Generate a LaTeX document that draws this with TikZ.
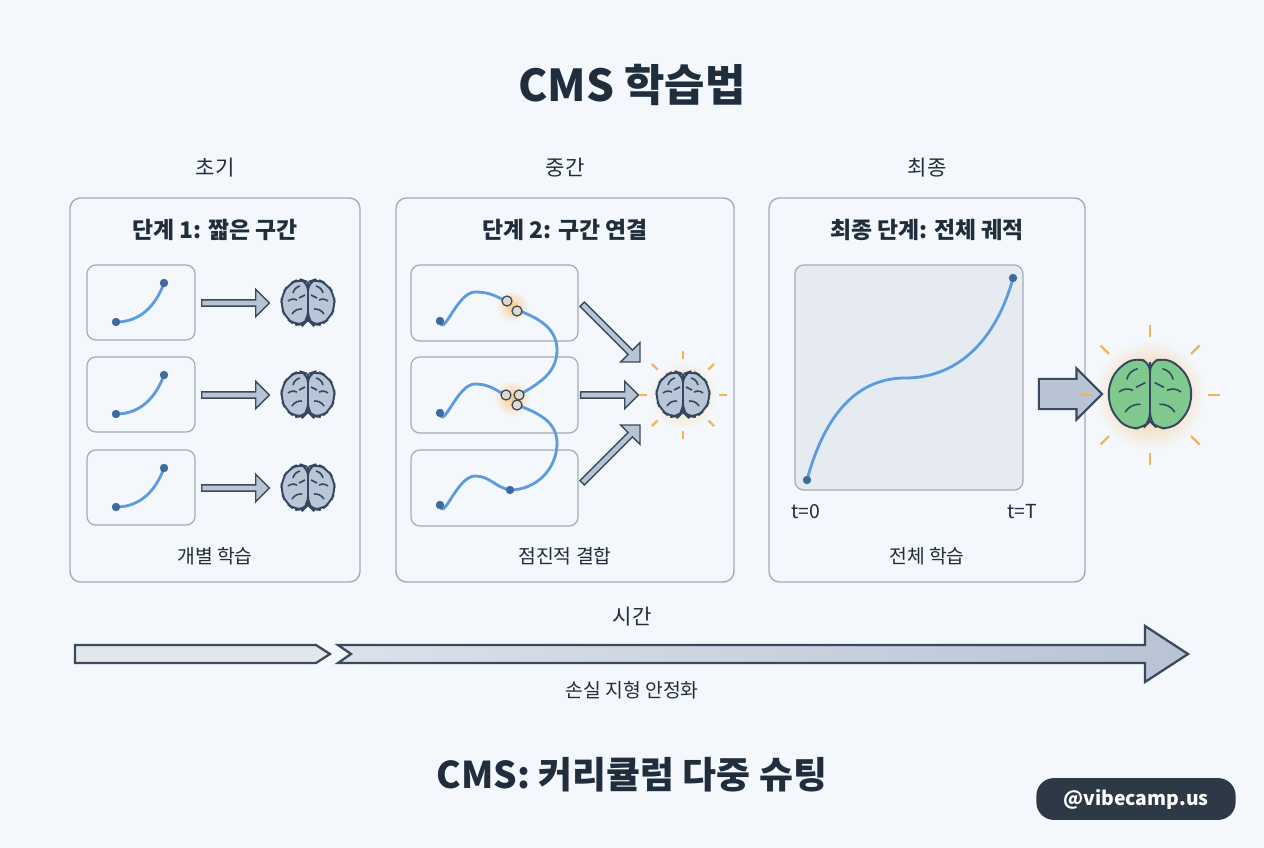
\documentclass[tikz,border=0pt]{standalone}
\usepackage{fontspec}
\setmainfont{Noto Sans CJK KR}
\usetikzlibrary{shapes.arrows,calc}
\definecolor{bgc}{HTML}{F4F7FB}
\definecolor{ink}{HTML}{1F2D3D}
\definecolor{frame}{HTML}{A4ACB6}
\definecolor{curve}{HTML}{5B9BE0}
\definecolor{dotc}{HTML}{3F6AA0}
\definecolor{arrfill}{HTML}{B8C3D3}
\definecolor{arrline}{HTML}{3A4A5E}
\definecolor{brainfill}{HTML}{B9C6D8}
\definecolor{brainline}{HTML}{34475E}
\definecolor{greenb}{HTML}{7FC98F}
\definecolor{glow}{HTML}{F2B35C}
\tikzset{
  panel/.style={draw=frame, line width=0.8pt, rounded corners=6pt, fill=bgc},
  seg/.style={draw=frame, line width=0.7pt, rounded corners=5pt, fill=bgc},
  path line/.style={curve, line width=1.6pt},
  enddot/.style={fill=dotc},
  joint/.style={draw=brainline, fill=brainfill!60!glow!60, line width=0.7pt},
  flow/.style={single arrow, draw=arrline, fill=arrfill, line width=0.8pt,
    inner sep=1.4pt, single arrow head extend=6pt, minimum height=#1*0.567pt},
  ray/.style={glow, line width=1.3pt},
  pics/brain/.style={code={
    \foreach \s in {1,-1}{
      \begin{scope}[xscale=\s]
        \draw[brainline, fill=#1, line width=1.1pt, rounded corners=5]
          (0,-21) -- (-9,-24) -- (-19,-19) -- (-26,-9) -- (-27,4)
          -- (-22,15) -- (-13,22) -- (-4,21) -- (0,17) -- cycle;
        \draw[brainline, line width=0.9pt]
          (-8,-17) to[bend right] (-15,-10)
          (-20,-2) to[bend left] (-11,-3)
          (-6,6) to[bend right] (-16,11)
          (-3,-8) -- (-9,-5);
      \end{scope}}
    \draw[brainline, line width=1.1pt] (0,-21) -- (0,17);
  }}
}
\begin{document}
\begin{tikzpicture}[x=0.02cm, y=-0.02cm]
\fill[bgc] (0,0) rectangle (1264,848);
\useasboundingbox (0,0) rectangle (1264,848);

% Title
\node[ink, font=\fontsize{25}{28}\selectfont\bfseries] (title) at (632,85) {CMS 학습법};

% Column headers
\node[ink, font=\fontsize{12}{14}\selectfont] (h1) at (215,168) {초기};
\node[ink, font=\fontsize{12}{14}\selectfont] (h2) at (565,168) {중간};
\node[ink, font=\fontsize{12}{14}\selectfont] (h3) at (927,168) {최종};

% Panels
\draw[panel] (70,198) rectangle (360,582);
\draw[panel] (396,198) rectangle (734,582);
\draw[panel] (769,198) rectangle (1085,582);
\node[ink, font=\fontsize{13}{15}\selectfont\bfseries] (t1) at (215,230) {단계 1: 짧은 구간};
\node[ink, font=\fontsize{13}{15}\selectfont\bfseries] (t2) at (565,230) {단계 2: 구간 연결};
\node[ink, font=\fontsize{13}{15}\selectfont\bfseries] (t3) at (927,230) {최종 단계: 전체 궤적};
\node[ink, font=\fontsize{11}{13}\selectfont] (f1) at (215,556) {개별 학습};
\node[ink, font=\fontsize{11}{13}\selectfont] (f2) at (565,556) {점진적 결합};
\node[ink, font=\fontsize{11}{13}\selectfont] (f3) at (927,556) {전체 학습};

% Stage 1: short segments
\foreach \y in {0,92,185}{
  \draw[seg] (87,265+\y) rectangle (195,340+\y);
  \draw[path line] (116,322+\y) to[out=0, in=-110] (164,283+\y);
  \fill[enddot] (116,322+\y) circle (4.2);
  \fill[enddot] (164,283+\y) circle (4.2);
  \node[flow=68] (a\y) at (234,303+\y) {};
  \pic at (308,303+\y) {brain=brainfill};
}

% Stage 2: linked segments
\foreach \y in {0,92,185}{
  \draw[seg] (411,265+\y) rectangle (578,341+\y);
}
\shade[inner color=glow!70, outer color=bgc] (512,306) circle (16);
\shade[inner color=glow!70, outer color=bgc] (512,398) circle (18);
\draw[path line] (440,321) to[out=-80, in=180] (475,292) to[out=0, in=150] (507,302);
\draw[path line] (517,310) to[out=-20, in=90] (557,350) to[out=-90, in=30] (519,395);
\draw[path line] (440,413) to[out=-80, in=180] (475,384) to[out=0, in=150] (505,395);
\draw[path line] (517,405) to[out=-20, in=90] (557,443) to[out=-90, in=0] (510,490);
\draw[path line] (440,505) to[out=-80, in=180] (475,476) to[out=0, in=170] (510,490);
\fill[enddot] (440,321) circle (4.2);
\fill[enddot] (440,413) circle (4.2);
\fill[enddot] (440,505) circle (4.2);
\fill[enddot] (510,490) circle (4.2);
\draw[joint] (507,301) circle (5);
\draw[joint] (517,311) circle (5);
\draw[joint] (506,395) circle (5);
\draw[joint] (519,395) circle (5);
\draw[joint] (517,405) circle (5);
\node[flow=82, rotate=-45] (b1) at (610,332) {};
\node[flow=58] (b2) at (608,395) {};
\node[flow=82, rotate=45] (b3) at (610,455) {};
\shade[inner color=glow!60, outer color=bgc] (683,395) circle (34);
\foreach \a in {0,45,...,315}{
  \draw[ray] ($(683,395)+(\a:36)$) -- ($(683,395)+(\a:44)$);
}
\pic at (683,395) {brain=brainfill};

% Stage 3: full trajectory
\draw[seg, fill=brainfill!35] (795,265) rectangle (1023,490);
\draw[path line] (807,480) to[out=75, in=180] (905,378) to[out=0, in=-105] (1013,278);
\fill[enddot] (807,480) circle (4.2);
\fill[enddot] (1013,278) circle (4.2);
\node[ink, font=\fontsize{11}{13}\selectfont] (t0) at (806,512) {t=0};
\node[ink, font=\fontsize{11}{13}\selectfont] (tT) at (1022,512) {t=T};
\shade[inner color=glow!80, outer color=bgc] (1150,395) circle (55);
\node[single arrow, draw=arrline, fill=arrfill, line width=1.2pt, minimum height=36pt,
  inner sep=8pt, single arrow head extend=6pt] (c1) at (1063,394) {};
\foreach \a in {0,45,...,315}{
  \draw[ray] ($(1150,395)+(\a:58)$) -- ($(1150,395)+(\a:70)$);
}
\pic[scale=1.55] at (1150,395) {brain=greenb};

% Timeline
\node[ink, font=\fontsize{12}{14}\selectfont] (time) at (632,617) {시간};
\draw[arrline, fill=arrfill!40, line width=1.3pt]
  (75,645) -- (316,645) -- (330,654) -- (316,663) -- (75,663) -- cycle;
\draw[arrline, line width=1.3pt, left color=arrfill!50, right color=arrfill]
  (338,645) -- (1145,645) -- (1145,626) -- (1188,654) -- (1145,682) -- (1145,663)
  -- (338,663) -- (351,654) -- cycle;
\node[ink, font=\fontsize{11}{13}\selectfont] (loss) at (632,690) {손실 지형 안정화};

% Bottom title
\node[ink, font=\fontsize{21}{24}\selectfont\bfseries] (sub) at (632,775) {CMS: 커리큘럼 다중 슈팅};
\node[fill=ink!85!gray, rounded corners=10pt, text=white, minimum width=200*0.567pt,
  minimum height=42*0.567pt, font=\fontsize{11}{13}\selectfont\bfseries] (badge) at (1136,799) {@vibecamp.us};
\end{tikzpicture}
\end{document}
